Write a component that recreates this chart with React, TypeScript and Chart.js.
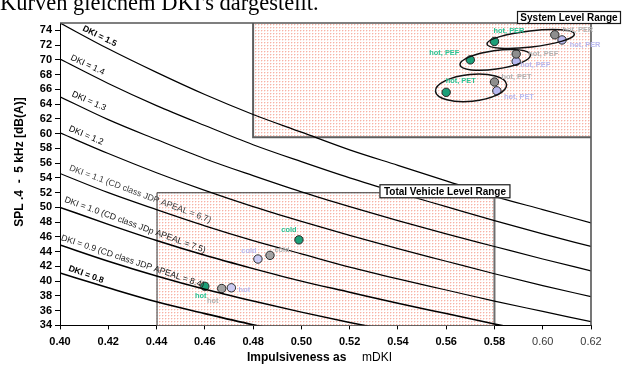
import React, { useEffect, useRef } from "react";
import { Chart, registerables } from "chart.js";

Chart.register(...registerables);

// ---------- data ----------
const X_GRID = [0.4, 0.42, 0.44, 0.46, 0.48, 0.5, 0.52, 0.54, 0.56, 0.58, 0.6, 0.62];
const X_TICKS = [0.4, 0.42, 0.44, 0.46, 0.48, 0.5, 0.52, 0.54, 0.56, 0.58, 0.6, 0.62];
const Y_TICKS = [34, 36, 38, 40, 42, 44, 46, 48, 50, 52, 54, 56, 58, 60, 62, 64, 66, 68, 70, 72, 74];

const DKI_15 = [75.0, 71.5, 68.3, 65.3, 62.6, 60.2, 57.8, 55.7, 53.6, 51.5, 49.7, 47.9];
const DKI_14 = [70.1, 66.8, 63.8, 61.1, 58.5, 56.2, 54.0, 52.0, 50.1, 48.2, 46.4, 44.7];
const DKI_13 = [65.0, 61.9, 59.2, 56.6, 54.3, 52.1, 50.1, 48.2, 46.4, 44.7, 43.0, 41.4];
const DKI_12 = [60.1, 57.3, 54.7, 52.3, 50.1, 48.1, 46.2, 44.4, 42.7, 41.0, 39.4, 37.9];
const DKI_11 = [54.6, 52.0, 49.7, 47.5, 45.5, 43.7, 41.9, 40.3, 38.8, 37.3, 35.9, 34.5];
const DKI_10 = [50.0, 47.7, 45.5, 43.5, 41.7, 40.0, 38.5, 37.0, 35.6, 34.2, 32.9];
const DKI_09 = [44.9, 42.7, 40.7, 38.9, 37.3, 35.8, 34.4, 33.1];
const DKI_08 = [41.1, 39.1, 37.2, 35.6, 34.1, 32.8];

const CURVE_NAMES = [
  "DKI = 1.5",
  "DKI = 1.4",
  "DKI = 1.3",
  "DKI = 1.2",
  "DKI = 1.1 (CD class JDP APEAL = 6.7)",
  "DKI = 1.0 (CD class JDp APEAL = 7.5)",
  "DKI = 0.9 (CD class JDP APEAL = 8.4)",
  "DKI = 0.8",
];
const CURVE_VALUES = [DKI_15, DKI_14, DKI_13, DKI_12, DKI_11, DKI_10, DKI_09, DKI_08];

// Total vehicle level points
const TVL_LABELS = ["cold", "hot"];
const TVL_GREEN_X = [0.499, 0.46];
const TVL_GREEN_Y = [45.6, 39.3];
const TVL_GREY_X = [0.487, 0.467];
const TVL_GREY_Y = [43.5, 39.0];
const TVL_LAV_X = [0.482, 0.471];
const TVL_LAV_Y = [43.0, 39.1];

// System level points
const SYS_LABELS = ["hot, PER", "hot, PEF", "hot, PET"];
const SYS_GREEN_X = [0.58, 0.57, 0.56];
const SYS_GREEN_Y = [72.5, 70.0, 65.6];
const SYS_GREY_X = [0.605, 0.589, 0.58];
const SYS_GREY_Y = [73.4, 70.8, 67.0];
const SYS_LAV_X = [0.608, 0.589, 0.581];
const SYS_LAV_Y = [72.7, 69.8, 65.8];

// Range boxes (data coordinates)
const SYSTEM_BOX = { x0: 0.48, x1: 0.62, y0: 59.5, y1: 75 };
const TOTAL_BOX = { x0: 0.44, x1: 0.58, y0: 34, y1: 52.05 };

// ---------- styles ----------
const SANS = '"Liberation Sans", Arial, Helvetica, sans-serif';
const GREEN = "#1c9f78";
const GREEN_TXT = "#2cc495";
const GREY = "#a3a3a3";
const GREY_TXT = "#b3b3b3";
const LAV = "#cbcbf3";
const LAV_TXT = "#b9b9ee";

const CURVE_STYLE = [
  { width: 1.2, label: { x: 0.4164, y: 73.2, angle: 26, bold: true, color: "#000" } },
  { width: 1.2, label: { x: 0.4114, y: 69.3, angle: 25, bold: false, color: "#000" } },
  { width: 1.2, label: { x: 0.412, y: 64.4, angle: 24, bold: false, color: "#000" } },
  { width: 1.2, label: { x: 0.4108, y: 59.75, angle: 23, bold: false, color: "#000" } },
  { width: 1.2, label: { x: 0.4332, y: 51.8, angle: 20.5, bold: false, color: "#3a3a3a" } },
  { width: 1.5, label: { x: 0.4311, y: 47.6, angle: 20, bold: false, color: "#222" } },
  { width: 1.5, label: { x: 0.4301, y: 42.66, angle: 18.5, bold: false, color: "#222" } },
  { width: 1.6, label: { x: 0.4108, y: 40.9, angle: 20, bold: true, color: "#000" } },
];

const POINT_SERIES = [
  { xs: TVL_GREEN_X, ys: TVL_GREEN_Y, labels: TVL_LABELS, fill: GREEN, txt: GREEN_TXT, cross: false, off: [[-10, -10], [-4, 10]] },
  { xs: TVL_GREY_X, ys: TVL_GREY_Y, labels: TVL_LABELS, fill: GREY, txt: GREY_TXT, cross: false, off: [[12, -5], [-9, 12]] },
  { xs: TVL_LAV_X, ys: TVL_LAV_Y, labels: TVL_LABELS, fill: LAV, txt: LAV_TXT, cross: false, off: [[-9, -8], [13, 2]] },
  { xs: SYS_GREEN_X, ys: SYS_GREEN_Y, labels: SYS_LABELS, fill: GREEN, txt: GREEN_TXT, cross: true, off: [[14.5, -10], [-26, -6.5], [14.5, -11]] },
  { xs: SYS_GREY_X, ys: SYS_GREY_Y, labels: SYS_LABELS, fill: "#8e8e8e", txt: GREY_TXT, cross: true, off: [[23, -5], [27, 0], [22, -5]] },
  { xs: SYS_LAV_X, ys: SYS_LAV_Y, labels: SYS_LABELS, fill: "#b8b8ee", txt: LAV_TXT, cross: true, off: [[23, 5], [19, 4], [22, 6]] },
];

const ELLIPSES = [
  { x: 0.595, y: 72.83, rx: 44, ry: 8, rot: -6.5 },
  { x: 0.5803, y: 70.0, rx: 35.5, ry: 9.3, rot: -8 },
  { x: 0.5703, y: 66.2, rx: 35.7, ry: 13.4, rot: -5.5 },
];

export default function App() {
  const ref = useRef<HTMLCanvasElement>(null);

  useEffect(() => {
    const canvas = ref.current!;
    const ctx0 = canvas.getContext("2d")!;
    const tile = document.createElement("canvas");
    tile.width = 3;
    tile.height = 3;
    const tg = tile.getContext("2d")!;
    tg.fillStyle = "#ffffff";
    tg.fillRect(0, 0, 3, 3);
    tg.fillStyle = "#f6b2a6";
    tg.fillRect(0, 0, 1, 1);
    tg.fillStyle = "#fde3dd";
    tg.fillRect(1, 0, 1, 1);
    tg.fillRect(0, 1, 1, 1);
    const pattern = ctx0.createPattern(tile, "repeat")!;

    const curveDatasets = CURVE_VALUES.map((vals, i) => ({
      type: "scatter" as const,
      label: CURVE_NAMES[i],
      data: vals.map((v, j) => ({ x: X_GRID[j], y: v })),
      showLine: true,
      borderColor: "#000",
      borderWidth: CURVE_STYLE[i].width,
      pointRadius: 0,
      tension: 0.4,
      cubicInterpolationMode: "monotone" as const,
      fill: false,
    }));

    const pointDatasets: any[] = [];
    POINT_SERIES.forEach((s) => {
      const data = s.xs.map((x, j) => ({ x, y: s.ys[j] }));
      pointDatasets.push({
        type: "scatter",
        data,
        pointRadius: 4.2,
        pointBackgroundColor: s.fill,
        pointBorderColor: "#2a2a2a",
        pointBorderWidth: 1,
        showLine: false,
      });
      if (s.cross) {
        pointDatasets.push({
          type: "scatter",
          data,
          pointStyle: "cross",
          pointRadius: 4,
          pointBorderColor: "#1a1a1a",
          pointBorderWidth: 1,
          showLine: false,
        });
      }
    });

    const drawBoxLabel = (ctx: CanvasRenderingContext2D, text: string, left: number, top: number, w: number, h: number) => {
      ctx.save();
      ctx.fillStyle = "#fff";
      ctx.fillRect(left, top, w, h);
      ctx.strokeStyle = "#1a1a1a";
      ctx.lineWidth = 1.2;
      ctx.strokeRect(left + 0.5, top + 0.5, w - 1, h - 1);
      ctx.fillStyle = "#000";
      ctx.font = `bold 10px ${SANS}`;
      ctx.textAlign = "center";
      ctx.textBaseline = "middle";
      ctx.fillText(text, left + w / 2, top + h / 2 + 0.5);
      ctx.restore();
    };

    const decor = {
      id: "decor",
      beforeDatasetsDraw(chart: any) {
        const { ctx, scales } = chart;
        const x = scales.x;
        const y = scales.y;
        let l = x.getPixelForValue(SYSTEM_BOX.x0);
        let r = x.getPixelForValue(SYSTEM_BOX.x1);
        let t = y.getPixelForValue(SYSTEM_BOX.y1);
        let b = y.getPixelForValue(SYSTEM_BOX.y0);
        ctx.save();
        ctx.fillStyle = pattern;
        ctx.fillRect(l, t, r - l, b - t);
        ctx.strokeStyle = "#5e5e5e";
        ctx.lineWidth = 2;
        ctx.beginPath();
        ctx.moveTo(l, t);
        ctx.lineTo(l, b);
        ctx.lineTo(r, b);
        ctx.stroke();
        l = x.getPixelForValue(TOTAL_BOX.x0);
        r = x.getPixelForValue(TOTAL_BOX.x1);
        t = y.getPixelForValue(TOTAL_BOX.y1);
        b = y.getPixelForValue(TOTAL_BOX.y0);
        ctx.fillStyle = pattern;
        ctx.fillRect(l, t, r - l, b - t);
        ctx.strokeStyle = "#333";
        ctx.lineWidth = 1;
        ctx.beginPath();
        ctx.moveTo(l + 0.5, b);
        ctx.lineTo(l + 0.5, t + 0.5);
        ctx.lineTo(r, t + 0.5);
        ctx.stroke();
        ctx.strokeStyle = "#6e6e6e";
        ctx.lineWidth = 2;
        ctx.beginPath();
        ctx.moveTo(r, t);
        ctx.lineTo(r, b);
        ctx.stroke();
        ctx.restore();
      },
      afterDatasetsDraw(chart: any) {
        const { ctx, scales, chartArea } = chart;
        const x = scales.x;
        const y = scales.y;
        ctx.save();
        ctx.strokeStyle = "#555";
        ctx.lineWidth = 1.6;
        ctx.beginPath();
        ctx.moveTo(chartArea.left, chartArea.top);
        ctx.lineTo(chartArea.right, chartArea.top);
        ctx.lineTo(chartArea.right, chartArea.bottom);
        ctx.stroke();

        ctx.strokeStyle = "#111";
        ctx.lineWidth = 1.5;
        ELLIPSES.forEach((e) => {
          ctx.beginPath();
          ctx.ellipse(x.getPixelForValue(e.x), y.getPixelForValue(e.y), e.rx, e.ry, (e.rot * Math.PI) / 180, 0, Math.PI * 2);
          ctx.stroke();
        });

        CURVE_STYLE.forEach((c, i) => {
          const lb = c.label;
          ctx.save();
          ctx.translate(x.getPixelForValue(lb.x), y.getPixelForValue(lb.y));
          ctx.rotate((lb.angle * Math.PI) / 180);
          ctx.font = `${lb.bold ? "bold " : ""}8.7px ${SANS}`;
          ctx.fillStyle = lb.color;
          ctx.textAlign = "center";
          ctx.textBaseline = "middle";
          ctx.fillText(CURVE_NAMES[i], 0, 0);
          ctx.restore();
        });

        ctx.font = `bold 7.4px ${SANS}`;
        ctx.textAlign = "center";
        ctx.textBaseline = "middle";
        POINT_SERIES.forEach((s) => {
          ctx.fillStyle = s.txt;
          s.xs.forEach((xv, j) => {
            const px = x.getPixelForValue(xv) + s.off[j][0];
            const py = y.getPixelForValue(s.ys[j]) + s.off[j][1];
            ctx.fillText(s.labels[j], px, py);
          });
        });

        const sysR = x.getPixelForValue(SYSTEM_BOX.x1);
        const sysT = y.getPixelForValue(SYSTEM_BOX.y1);
        drawBoxLabel(ctx, "System Level Range", sysR - 74, sysT - 12, 104, 13);
        const totR = x.getPixelForValue(TOTAL_BOX.x1);
        const totT = y.getPixelForValue(TOTAL_BOX.y1);
        drawBoxLabel(ctx, "Total Vehicle Level Range", totR - 115, totT - 8, 131, 14);
        ctx.restore();
      },
      afterDraw(chart: any) {
        const { ctx, chartArea } = chart;
        ctx.save();
        ctx.fillStyle = "#000";
        ctx.font = '22.5px "Liberation Serif", "Times New Roman", serif';
        ctx.textAlign = "left";
        ctx.textBaseline = "alphabetic";
        ctx.fillText("Kurven gleichem DKI's dargestellt.", 0, 10);
        ctx.save();
        ctx.translate(20, chartArea.top + 139);
        ctx.rotate(-Math.PI / 2);
        ctx.font = `bold 12px ${SANS}`;
        ctx.textAlign = "center";
        ctx.textBaseline = "middle";
        ctx.fillText("SPL .4  -  5 kHz [dB(A)]", 0, 0);
        ctx.restore();
        ctx.font = `bold 12px ${SANS}`;
        ctx.textAlign = "left";
        ctx.textBaseline = "middle";
        ctx.fillText("Impulsiveness as", 247, chartArea.bottom + 32);
        ctx.font = `12px ${SANS}`;
        ctx.fillText("mDKI", 362, chartArea.bottom + 32);
        ctx.restore();
      },
    };

    const chart = new Chart(canvas, {
      type: "scatter",
      data: { datasets: [...curveDatasets, ...pointDatasets] as any },
      options: {
        responsive: false,
        animation: false,
        events: [],
        layout: { padding: { left: 0, top: 23, right: 34, bottom: 0 } },
        plugins: { legend: { display: false }, tooltip: { enabled: false } },
        scales: {
          x: {
            type: "linear",
            min: 0.4,
            max: 0.62,
            afterBuildTicks: (s: any) => {
              s.ticks = X_TICKS.map((v) => ({ value: v }));
            },
            afterFit: (s: any) => {
              s.height = 41.6;
            },
            border: { color: "#000", width: 1 },
            grid: { drawOnChartArea: false, drawTicks: true, tickLength: 4, color: "#000" },
            ticks: {
              padding: 6,
              maxRotation: 0,
              autoSkip: false,
              callback: (v: any) => Number(v).toFixed(2),
              color: (c: any) => (c.tick && c.tick.value > 0.59 ? "#3a3a3a" : "#000"),
              font: (c: any) => ({
                family: SANS,
                size: 11,
                weight: c.tick && c.tick.value > 0.59 ? "normal" : "bold",
              }),
            },
          },
          y: {
            type: "linear",
            min: 34,
            max: 75,
            afterBuildTicks: (s: any) => {
              s.ticks = Y_TICKS.map((v) => ({ value: v }));
            },
            afterFit: (s: any) => {
              s.width = 60;
            },
            border: { color: "#000", width: 1 },
            grid: { drawOnChartArea: false, drawTicks: true, tickLength: 5, color: "#000" },
            ticks: {
              padding: 3,
              autoSkip: false,
              callback: (v: any) => String(v),
              color: "#000",
              font: { family: SANS, size: 11, weight: "bold" },
            },
          },
        },
      },
      plugins: [decor],
    } as any);

    return () => chart.destroy();
  }, []);

  return (
    <div style={{ position: "fixed", left: 0, top: 0, width: 625, height: 367, background: "#fff" }}>
      <canvas ref={ref} width={625} height={367} style={{ display: "block", width: 625, height: 367 }} />
    </div>
  );
}
